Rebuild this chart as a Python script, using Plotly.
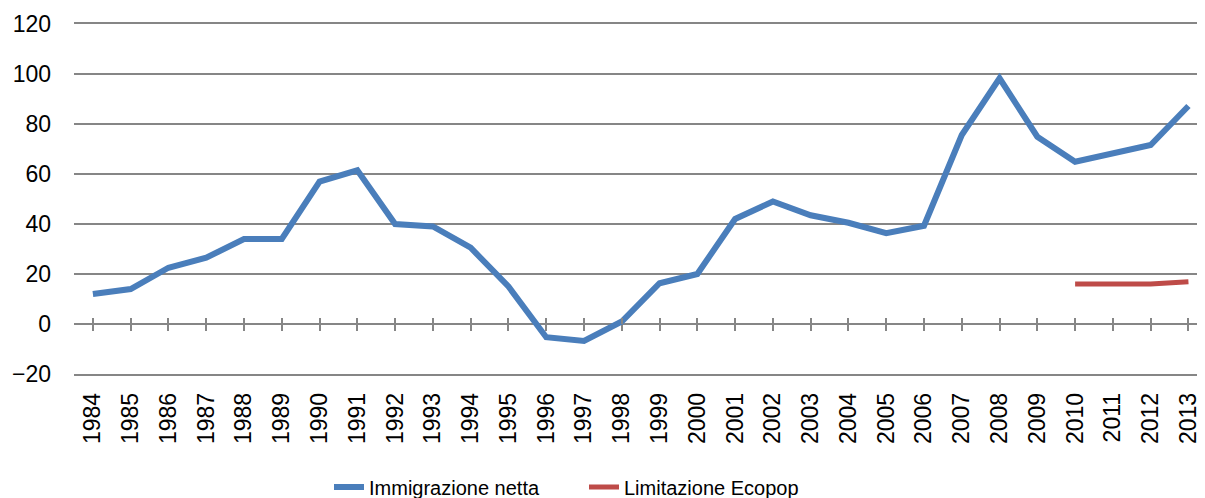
import plotly.graph_objects as go

years = [str(y) for y in range(1984, 2014)]
immigrazione = [12, 14, 22.5, 26.5, 34, 34, 57, 61.5, 40, 39, 30.5, 15, -5.3, -6.8, 1,
                16.3, 20, 42, 49, 43.5, 40.5, 36.3, 39.3, 75.6, 98.3, 74.9, 64.9, 68.3, 71.6, 87.2]
ecopop_years = ["2010", "2011", "2012", "2013"]
ecopop = [16, 16, 16, 16.9]

idx = list(range(len(years)))
eco_idx = [years.index(y) for y in ecopop_years]

BLUE = "#4A7EBB"
RED = "#BE4B48"
GRID = "#868686"
FONT = "Liberation Sans"

fig = go.Figure()
fig.add_trace(go.Scatter(x=idx, y=immigrazione, mode="lines", name="Immigrazione netta",
                         line=dict(color=BLUE, width=6), showlegend=True))
fig.add_trace(go.Scatter(x=eco_idx, y=ecopop, mode="lines", name="Limitazione Ecopop",
                         line=dict(color=RED, width=5), showlegend=True))
# empty helper traces so the tick-only axes at the zero line are drawn
for ax in ("x2", "x3"):
    fig.add_trace(go.Scatter(x=idx, y=[None] * len(idx), xaxis=ax, yaxis="y",
                             mode="lines", showlegend=False, hoverinfo="skip"))

xr = [-0.5, 29.65]
y0_frac = (0 - (-20)) / 140.0

tick_axis = dict(range=xr, overlaying="x", anchor="free", position=y0_frac, side="bottom",
                 tickmode="array", tickvals=idx, ticklen=6, tickwidth=1.5,
                 tickcolor=GRID, showticklabels=False, showgrid=False, zeroline=False,
                 showline=False, automargin=False)

fig.update_layout(
    width=1205, height=498,
    margin=dict(l=66, r=0, t=16, b=132, autoexpand=False),
    paper_bgcolor="white", plot_bgcolor="white",
    font=dict(family=FONT, size=23, color="black"),
    xaxis=dict(range=xr, tickmode="array", tickvals=idx, ticktext=years, tickangle=-90,
               showgrid=False, zeroline=False, showline=True, mirror=True,
               linecolor=GRID, linewidth=1.5, ticks="", automargin=False,
               ticklabelstandoff=8, tickfont=dict(size=23, family=FONT)),
    xaxis2=dict(tick_axis, ticks="outside"),
    xaxis3=dict(tick_axis, ticks="inside"),
    yaxis=dict(range=[-20, 120], tickmode="linear", tick0=-20, dtick=20,
               showgrid=True, gridcolor=GRID, gridwidth=1.5, zeroline=False, showline=False,
               ticks="", automargin=False, ticklabelstandoff=22,
               tickfont=dict(size=23, family=FONT)),
    legend=dict(orientation="h", x=(321 - 66) / 1139, xanchor="left", y=-0.323, yanchor="middle",
                font=dict(size=20, family=FONT), itemwidth=30, tracegroupgap=0,
                entrywidth=210, entrywidthmode="pixels",
                bgcolor="rgba(0,0,0,0)"),
)

fig.write_html("out.html")
